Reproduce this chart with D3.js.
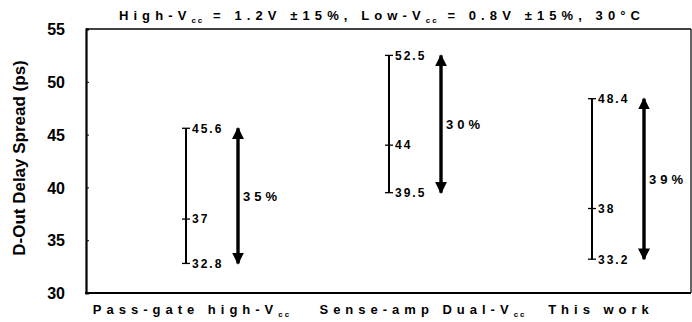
<!DOCTYPE html>
<html>
<head>
<meta charset="utf-8">
<script src="https://cdn.jsdelivr.net/npm/d3@7"></script>
<style>
  body { margin: 0; background: #fff; }
  text { font-family: "Liberation Sans", Arial, sans-serif; font-weight: bold; fill: #000; }
</style>
</head>
<body>
<div id="chart-area"></div>
<script>
// chart size
let width = 692,
	height = 322;

// data
let categories = ["Pass-gate high-Vcc", "Sense-amp Dual-Vcc", "This work"];
let labelMain = ["Pass-gate high-V", "Sense-amp Dual-V", "This work"];
let labelSub = ["cc", "cc", ""];
let highVals = [45.6, 52.5, 48.4];
let midVals = [37, 44, 38];
let lowVals = [32.8, 39.5, 33.2];
let percents = ["35%", "30%", "39%"];
let yTicks = [30, 35, 40, 45, 50, 55];

let margin = {left: 86, right: 1, top: 29, bottom: 29};

let svg = d3.select("#chart-area").append("svg").attr("width", width).attr("height", height);

let x = d3.scalePoint().domain(categories).range([186, 592]);
let y = d3.scaleLinear().domain([30, 55]).range([height - margin.bottom, margin.top]);

let data = categories.map((c, i) => ({
	cat: c, hi: highVals[i], mid: midVals[i], lo: lowVals[i], pct: percents[i],
	main: labelMain[i], sub: labelSub[i]
}));

// arrow heads
let defs = svg.append("defs");
defs.append("marker")
	.attr("id", "head")
	.attr("viewBox", "0 0 10 10")
	.attr("refX", 9).attr("refY", 5)
	.attr("markerUnits", "userSpaceOnUse")
	.attr("markerWidth", 12).attr("markerHeight", 14)
	.attr("orient", "auto-start-reverse")
	.append("path").attr("d", "M0,0 L10,5 L0,10 Z").attr("fill", "#000");

// frame
svg.append("line")
	.attr("x1", margin.left).attr("x2", width - margin.right)
	.attr("y1", y(55)).attr("y2", y(55))
	.attr("stroke", "#000").attr("stroke-width", 1.5);
svg.append("line")
	.attr("x1", width - margin.right).attr("x2", width - margin.right)
	.attr("y1", y(55)).attr("y2", y(30))
	.attr("stroke", "#000").attr("stroke-width", 1.2);

// y axis
let yAxis = d3.axisLeft(y).tickValues(yTicks).tickSize(-3).tickPadding(22);
let gy = svg.append("g")
	.attr("transform", "translate(" + margin.left + ",0)")
	.call(yAxis);
gy.select(".domain").attr("stroke-width", 2.2);
gy.selectAll(".tick line").attr("stroke-width", 1);
gy.selectAll(".tick text").style("font-size", "16px").attr("x", -21).attr("dy", "0.36em");

// x axis line
svg.append("line")
	.attr("x1", margin.left - 1).attr("x2", width - margin.right)
	.attr("y1", y(30)).attr("y2", y(30))
	.attr("stroke", "#000").attr("stroke-width", 2.2);

// range lines
let g = svg.selectAll(".grp").data(data).enter().append("g").attr("class", "grp");

g.append("line")
	.attr("x1", d => x(d.cat)).attr("x2", d => x(d.cat))
	.attr("y1", d => y(d.hi)).attr("y2", d => y(d.lo))
	.attr("stroke", "#000").attr("stroke-width", 2);

["hi", "mid", "lo"].forEach(k => {
	g.append("line")
		.attr("x1", d => x(d.cat) - 4).attr("x2", d => x(d.cat) + 4)
		.attr("y1", d => y(d[k])).attr("y2", d => y(d[k]))
		.attr("stroke", "#000").attr("stroke-width", 1.3);
	g.append("text")
		.attr("x", d => x(d.cat) + 6)
		.attr("y", d => y(d[k]))
		.attr("dy", "0.36em")
		.style("font-size", "12px")
		.style("letter-spacing", "2px")
		.text(d => d[k]);
});

// double arrows
g.append("line")
	.attr("x1", d => x(d.cat) + 52).attr("x2", d => x(d.cat) + 52)
	.attr("y1", d => y(d.lo)).attr("y2", d => y(d.hi))
	.attr("stroke", "#000").attr("stroke-width", 3.4)
	.attr("marker-start", "url(#head)")
	.attr("marker-end", "url(#head)");

g.append("text")
	.attr("x", d => x(d.cat) + 57)
	.attr("y", d => y((d.hi + d.lo) / 2))
	.attr("dy", "0.36em")
	.style("font-size", "13px")
	.style("letter-spacing", "4px")
	.text(d => d.pct);

// category labels
let catDx = [6, 34, 9];
let xl = g.append("text")
	.attr("x", (d, i) => x(d.cat) + catDx[i])
	.attr("y", y(30) + 21)
	.attr("text-anchor", "middle")
	.style("font-size", "13px")
	.style("letter-spacing", "5px");
xl.append("tspan").text(d => d.main);
xl.append("tspan").attr("dy", 3).style("font-size", "8px").style("letter-spacing", "2px").text(d => d.sub);

// title
let title = svg.append("text")
	.attr("x", 382).attr("y", 20)
	.attr("text-anchor", "middle")
	.style("font-size", "13px")
	.style("letter-spacing", "5.1px");
title.append("tspan").text("High-V");
title.append("tspan").attr("dy", 3).style("font-size", "8px").style("letter-spacing", "2px").text("cc");
title.append("tspan").attr("dy", -3).text(" = 1.2V ±15%, Low-V");
title.append("tspan").attr("dy", 3).style("font-size", "8px").style("letter-spacing", "2px").text("cc");
title.append("tspan").attr("dy", -3).text(" = 0.8V ±15%, 30°C");

// y axis label
svg.append("text")
	.attr("transform", "translate(25,158) rotate(-90)")
	.attr("text-anchor", "middle")
	.style("font-size", "17px")
	.text("D-Out Delay Spread (ps)");
</script>
</body>
</html>
